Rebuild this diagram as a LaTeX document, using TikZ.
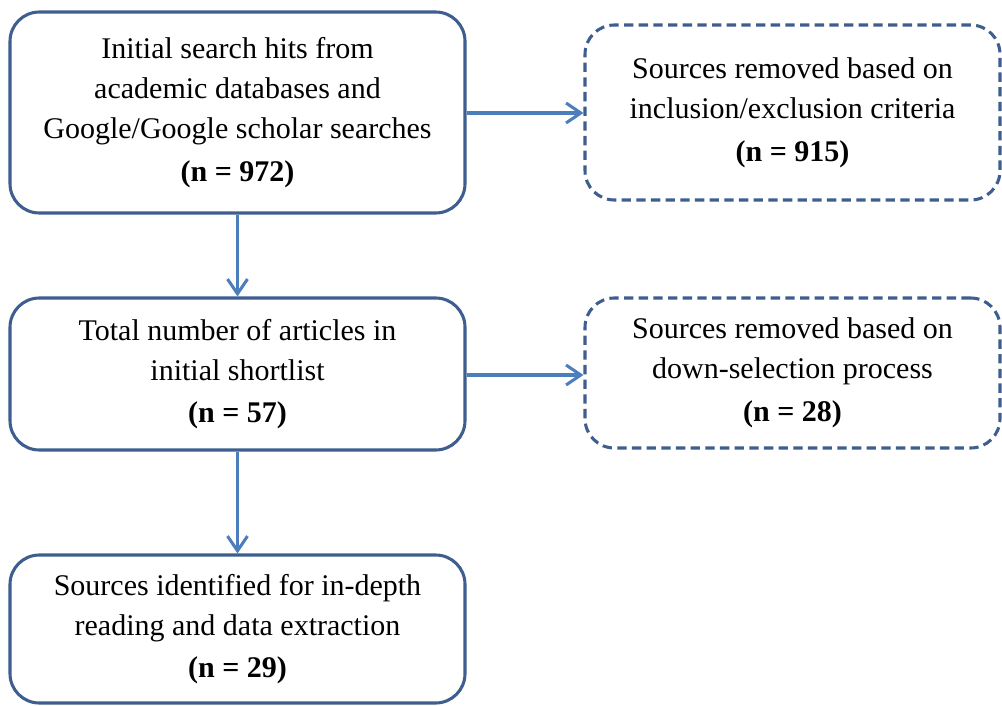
\documentclass[tikz,border=0pt]{standalone}
\usepackage{fontspec}
\setmainfont{Liberation Serif}
\usetikzlibrary{arrows.meta}
\definecolor{boxline}{HTML}{3D5E8E}
\definecolor{arrowline}{HTML}{4D7EBC}
\tikzset{
  flowbox/.style={draw=boxline, line width=2.3pt, rounded corners=22pt, fill=white,
    align=center, font=\fontsize{22.5}{30}\selectfont, inner sep=0pt},
  dashbox/.style={flowbox, dash pattern=on 7pt off 4pt},
  flowarrow/.style={draw=arrowline, line width=2.3pt, -{Straight Barb[length=11pt,width=15pt,line width=2.3pt]}}
}
\newcommand{\nline}[1]{\\[2pt]\textbf{#1}}
\begin{document}
\begin{tikzpicture}[x=0.75pt,y=-0.75pt]
\useasboundingbox (0,0) rectangle (1002,706);
\node[flowbox, minimum width=341.25pt, minimum height=150.75pt] (a) at (237.5,112.5)
  {Initial search hits from\\academic databases and\\Google/Google scholar searches\nline{(n = 972)}};
\node[dashbox, minimum width=311.25pt, minimum height=131.25pt] (b) at (792.5,112.5)
  {Sources removed based on\\inclusion/exclusion criteria\nline{(n = 915)}};
\node[flowbox, minimum width=341.25pt, minimum height=114pt] (c) at (237.5,374)
  {Total number of articles in\\initial shortlist\nline{(n = 57)}};
\node[dashbox, minimum width=311.25pt, minimum height=112.5pt] (d) at (792.5,373)
  {Sources removed based on\\down-selection process\nline{(n = 28)}};
\node[flowbox, minimum width=341.25pt, minimum height=111pt] (e) at (237.5,629)
  {Sources identified for in-depth\\reading and data extraction\nline{(n = 29)}};
\draw[flowarrow] (a.east |- 0,113) -- (b.west |- 0,113);
\draw[flowarrow] (a.south) -- (c.north);
\draw[flowarrow] (c.east |- 0,375) -- (d.west |- 0,375);
\draw[flowarrow] (c.south) -- (e.north);
\end{tikzpicture}
\end{document}
